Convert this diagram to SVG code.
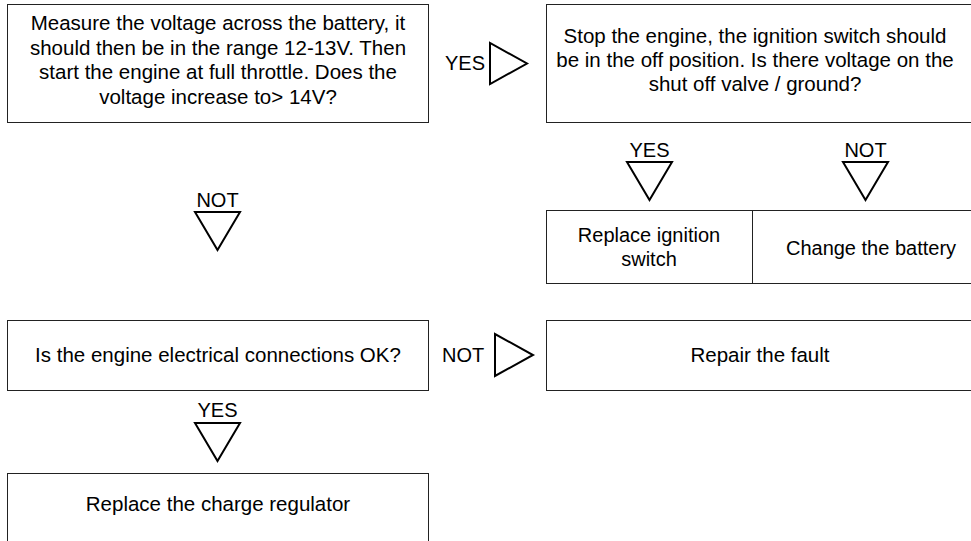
<svg xmlns="http://www.w3.org/2000/svg" width="971" height="541" viewBox="0 0 971 541">
<style>
  .box { fill: #fff; stroke: #222; stroke-width: 1; }
  .t { font-family: "Liberation Sans", Arial, sans-serif; font-size: 20.5px; fill: #000; text-anchor: middle; }
  .c { font-family: "Liberation Sans", Arial, sans-serif; font-size: 20px; fill: #000; text-anchor: middle; }
  .lbl { font-family: "Liberation Sans", Arial, sans-serif; font-size: 20px; fill: #000; }
  .tri { fill: #fff; stroke: #000; stroke-width: 2; stroke-linejoin: miter; }
</style>
<rect width="971" height="541" fill="#fff"/>

<g id="n1">
  <rect class="box" x="7.5" y="4.5" width="421" height="118"/>
  <text class="t" x="218" y="30">Measure the voltage across the battery, it</text>
  <text class="t" x="218" y="54.5">should then be in the range 12-13V. Then</text>
  <text class="t" x="218" y="79">start the engine at full throttle. Does the</text>
  <text class="t" x="218" y="103.5">voltage increase to&gt; 14V?</text>
</g>

<g id="n2">
  <rect class="box" x="546.5" y="4.5" width="440" height="118"/>
  <text class="t" x="755" y="43">Stop the engine, the ignition switch should</text>
  <text class="t" x="755" y="67">be in the off position. Is there voltage on the</text>
  <text class="t" x="755" y="91">shut off valve / ground?</text>
</g>

<g id="n3">
  <rect class="box" x="546.5" y="210.5" width="206" height="73"/>
  <text class="c" x="649" y="242">Replace ignition</text>
  <text class="c" x="649" y="266">switch</text>
</g>

<g id="n4">
  <rect class="box" x="752.5" y="210.5" width="240" height="73"/>
  <text class="c" x="871" y="255">Change the battery</text>
</g>

<g id="n5">
  <rect class="box" x="7.5" y="320.5" width="421" height="70"/>
  <text class="t" x="218" y="362">Is the engine electrical connections OK?</text>
</g>

<g id="n6">
  <rect class="box" x="546.5" y="320.5" width="440" height="70"/>
  <text class="t" x="760" y="362">Repair the fault</text>
</g>

<g id="n7">
  <rect class="box" x="7.5" y="473.5" width="421" height="80"/>
  <text class="t" x="218" y="511">Replace the charge regulator</text>
</g>

<g id="connectors">
  <g id="c1">
    <text class="lbl" x="445" y="70">YES</text>
    <polygon class="tri" points="490,43 490,84 527,63.5"/>
  </g>
  <g id="c2">
    <text class="c" x="649.5" y="157">YES</text>
    <polygon class="tri" points="627,162 672,162 649.5,200"/>
  </g>
  <g id="c3">
    <text class="c" x="865.5" y="157">NOT</text>
    <polygon class="tri" points="843,162 888,162 865.5,200"/>
  </g>
  <g id="c4">
    <text class="c" x="217.5" y="207">NOT</text>
    <polygon class="tri" points="195,212 240,212 217.5,250"/>
  </g>
  <g id="c5">
    <text class="lbl" x="442" y="362">NOT</text>
    <polygon class="tri" points="495,334 495,376 533,355"/>
  </g>
  <g id="c6">
    <text class="c" x="217.5" y="417">YES</text>
    <polygon class="tri" points="195,423 240,423 217.5,461"/>
  </g>
</g>
</svg>
